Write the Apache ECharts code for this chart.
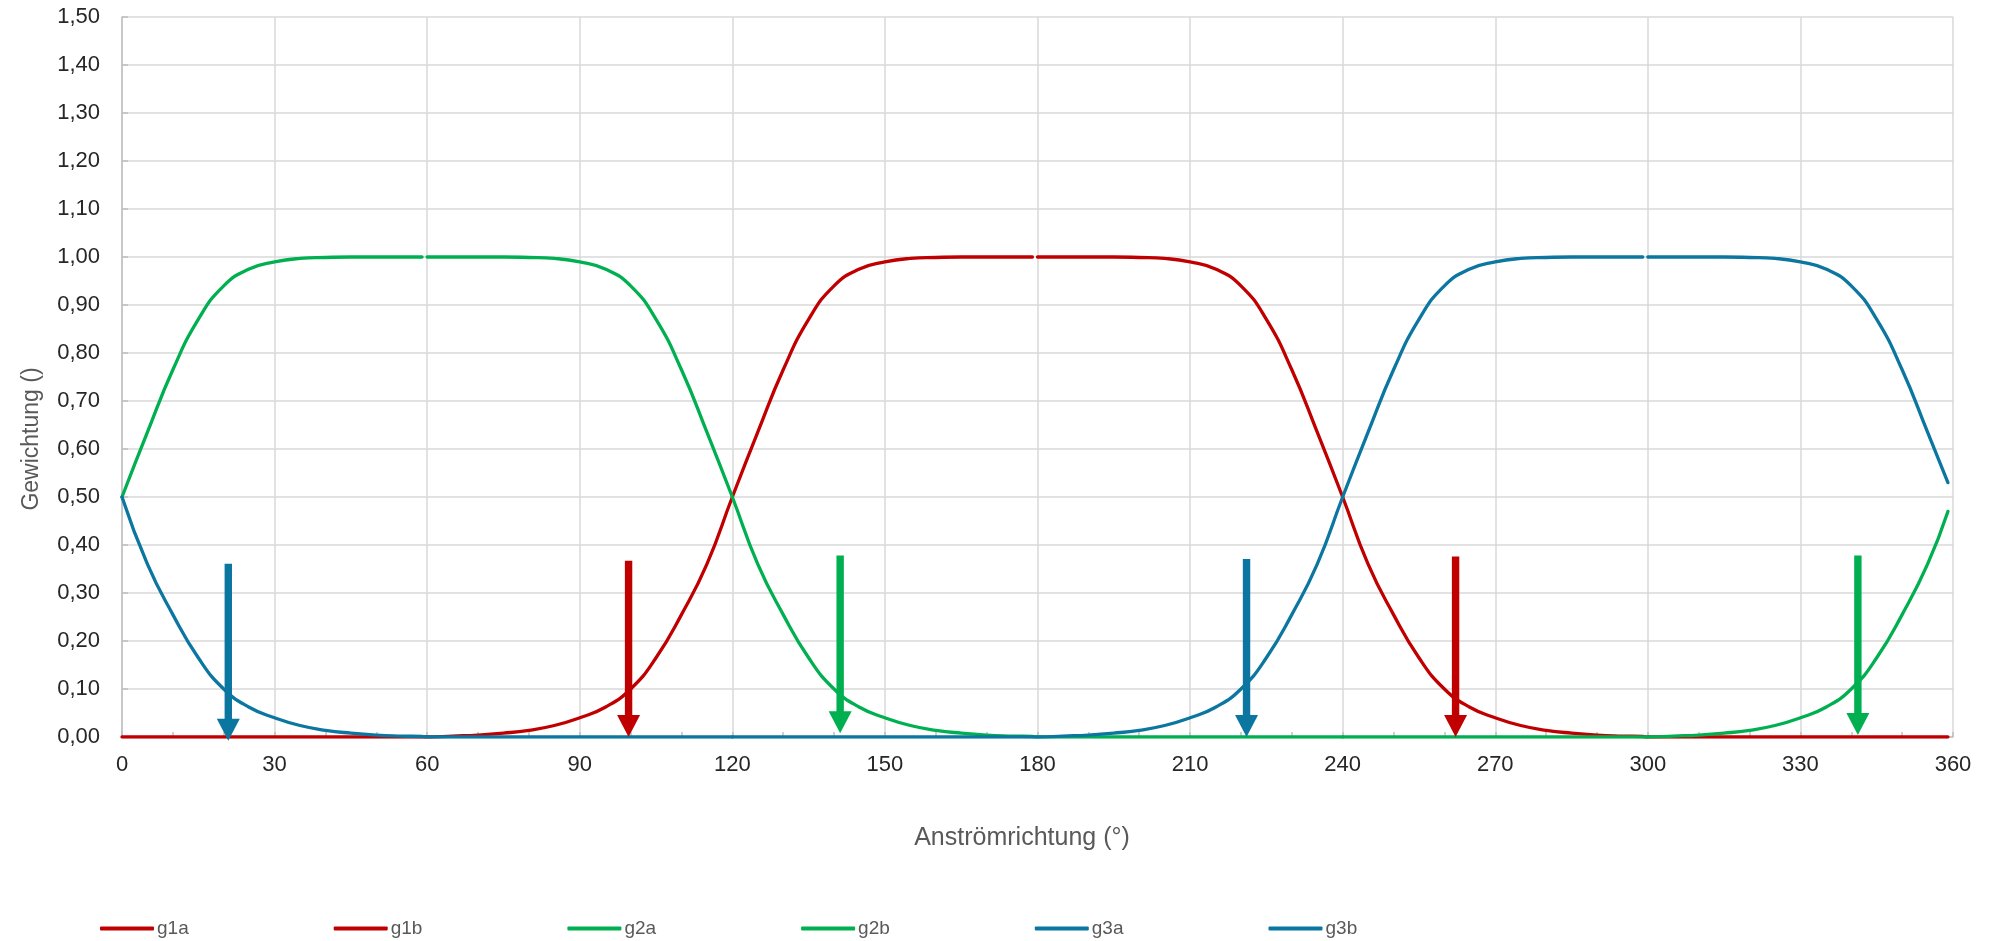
<!DOCTYPE html>
<html>
<head>
<meta charset="utf-8">
<script src="https://cdn.jsdelivr.net/npm/echarts@6/dist/echarts.min.js"></script>
<style>
  html, body { margin: 0; padding: 0; background: #fff; }
  #chart { width: 1989px; height: 941px; }
</style>
</head>
<body>
<div id="chart"></div>
<script>
// Anströmrichtung (°) – shared x positions of all curves
const angles = [0, 5, 10, 15, 20, 25, 30, 35, 40, 45, 50, 55, 59, 60, 65, 70, 75, 80, 85, 90, 95, 100, 105, 110, 115, 120, 125, 130, 135, 140, 145, 150, 155, 160, 165, 170, 175, 179, 180, 185, 190, 195, 200, 205, 210, 215, 220, 225, 230, 235, 240, 245, 250, 255, 260, 265, 270, 275, 280, 285, 290, 295, 299, 300, 305, 310, 315, 320, 325, 330, 335, 340, 345, 350, 355, 359];

// Gewichtung values (null = no point in that series)
const g1a = [0, 0, 0, 0, 0, 0, 0, 0, 0, 0, 0, 0, 0, 0, 0.002, 0.004, 0.008, 0.014, 0.024, 0.040, 0.062, 0.100, 0.165, 0.255, 0.360, 0.500, 0.635, 0.765, 0.870, 0.940, 0.975, 0.990, 0.997, 0.999, 1, 1, 1, 1, null, null, null, null, null, null, null, null, null, null, null, null, null, null, null, null, null, null, null, null, null, null, null, null, null, null, null, null, null, null, null, null, null, null, null, null, null, null];
const g1b = [null, null, null, null, null, null, null, null, null, null, null, null, null, null, null, null, null, null, null, null, null, null, null, null, null, null, null, null, null, null, null, null, null, null, null, null, null, null, 1, 1, 1, 1, 0.999, 0.997, 0.990, 0.975, 0.940, 0.870, 0.765, 0.635, 0.500, 0.360, 0.255, 0.165, 0.100, 0.062, 0.040, 0.024, 0.014, 0.008, 0.004, 0.002, 0.001, 0, 0, 0, 0, 0, 0, 0, 0, 0, 0, 0, 0, 0];
const g2a = [0.500, 0.635, 0.765, 0.870, 0.940, 0.975, 0.990, 0.997, 0.999, 1, 1, 1, 1, null, null, null, null, null, null, null, null, null, null, null, null, null, null, null, null, null, null, null, null, null, null, null, null, null, null, null, null, null, null, null, null, null, null, null, null, null, 0, 0, 0, 0, 0, 0, 0, 0, 0, 0, 0, 0, 0, 0, 0.002, 0.004, 0.008, 0.014, 0.024, 0.040, 0.062, 0.100, 0.165, 0.255, 0.360, 0.470];
const g2b = [null, null, null, null, null, null, null, null, null, null, null, null, null, 1, 1, 1, 1, 0.999, 0.997, 0.990, 0.975, 0.940, 0.870, 0.765, 0.635, 0.500, 0.360, 0.255, 0.165, 0.100, 0.062, 0.040, 0.024, 0.014, 0.008, 0.004, 0.002, 0.001, 0, 0, 0, 0, 0, 0, 0, 0, 0, 0, 0, 0, 0, null, null, null, null, null, null, null, null, null, null, null, null, null, null, null, null, null, null, null, null, null, null, null, null, null];
const g3a = [null, null, null, null, null, null, null, null, null, null, null, null, null, null, null, null, null, null, null, null, null, null, null, null, null, 0, 0, 0, 0, 0, 0, 0, 0, 0, 0, 0, 0, 0, 0, 0.002, 0.004, 0.008, 0.014, 0.024, 0.040, 0.062, 0.100, 0.165, 0.255, 0.360, 0.500, 0.635, 0.765, 0.870, 0.940, 0.975, 0.990, 0.997, 0.999, 1, 1, 1, 1, null, null, null, null, null, null, null, null, null, null, null, null, null];
const g3b = [0.500, 0.360, 0.255, 0.165, 0.100, 0.062, 0.040, 0.024, 0.014, 0.008, 0.004, 0.002, 0.001, 0, 0, 0, 0, 0, 0, 0, 0, 0, 0, 0, 0, 0, null, null, null, null, null, null, null, null, null, null, null, null, null, null, null, null, null, null, null, null, null, null, null, null, null, null, null, null, null, null, null, null, null, null, null, null, null, 1, 1, 1, 1, 0.999, 0.997, 0.990, 0.975, 0.940, 0.870, 0.765, 0.635, 0.530];

const seriesNames = ['g1a', 'g1b', 'g2a', 'g2b', 'g3a', 'g3b'];
const seriesValues = [g1a, g1b, g2a, g2b, g3a, g3b];
const seriesColors = ['#C00000', '#C00000', '#00B050', '#00B050', '#0B76A0', '#0B76A0'];

// arrows: x position, top value, tip value
const arrowX = [20.9, 99.6, 141.2, 221.1, 262.2, 341.3];
const arrowTop = [0.361, 0.367, 0.378, 0.371, 0.376, 0.378];
const arrowTip = [-0.008, 0, 0.008, 0, 0, 0.004];
const arrowColors = ['#0B76A0', '#C00000', '#00B050', '#0B76A0', '#C00000', '#00B050'];

const yTicks = { min: 0, max: 1.5, step: 0.1 };
const xTicks = { min: 0, max: 360, step: 30 };

const chart = echarts.init(document.getElementById('chart'));

const lineSeries = seriesNames.map((name, s) => ({
    name: name,
    type: 'line',
    data: angles.map((a, i) => [a, seriesValues[s][i]]),
    symbol: 'none',
    smooth: 0.5,
    connectNulls: false,
    color: seriesColors[s],
    lineStyle: { width: 3.3, color: seriesColors[s], cap: 'round' },
}));

const arrowSeries = {
    type: 'custom',
    name: 'arrows',
    data: arrowX.map((x, i) => [x, arrowTop[i], arrowTip[i]]),
    z: 10,
    renderItem: (params, api) => {
        const top = api.coord([api.value(0), api.value(1)]);
        const tip = api.coord([api.value(0), api.value(2)]);
        const color = arrowColors[params.dataIndex];
        const headH = 22;
        const headW = 23;
        return {
            type: 'group',
            children: [
                {
                    type: 'rect',
                    shape: { x: top[0] - 3.7, y: top[1], width: 7.4, height: tip[1] - headH - top[1] + 1 },
                    style: { fill: color },
                },
                {
                    type: 'polygon',
                    shape: { points: [[tip[0] - headW / 2, tip[1] - headH], [tip[0] + headW / 2, tip[1] - headH], [tip[0], tip[1]]] },
                    style: { fill: color },
                },
            ],
        };
    },
};

chart.setOption({
    animation: false,
    backgroundColor: '#ffffff',
    grid: { left: 122, right: 36, top: 17, bottom: 204 },
    legend: {
        data: seriesNames,
        left: 95,
        top: 914,
        icon: 'roundRect',
        itemWidth: 54,
        itemHeight: 4,
        itemGap: 145,
        textStyle: { fontFamily: 'Liberation Sans', fontSize: 19, color: '#595959', padding: [0, 0, 0, -2] },
    },
    xAxis: {
        type: 'value',
        min: xTicks.min,
        max: xTicks.max,
        interval: xTicks.step,
        axisLine: { show: true, lineStyle: { color: '#bfbfbf', width: 1.5 } },
        axisTick: { show: true, inside: true, length: 5, lineStyle: { color: '#bfbfbf', width: 1.5 } },
        minorTick: { show: true, splitNumber: 3, length: 5, lineStyle: { color: '#bfbfbf', width: 1.5 } },
        splitLine: { show: true, lineStyle: { color: '#d9d9d9', width: 1.5 } },
        axisLabel: { fontFamily: 'Liberation Sans', fontSize: 22, color: '#262626', margin: 17 },
    },
    yAxis: {
        type: 'value',
        min: yTicks.min,
        max: yTicks.max,
        interval: yTicks.step,
        axisLine: { show: true, lineStyle: { color: '#bfbfbf', width: 1.5 } },
        axisTick: { show: true, inside: true, length: 6, lineStyle: { color: '#bfbfbf', width: 1.5 } },
        splitLine: { show: true, lineStyle: { color: '#d9d9d9', width: 1.5 } },
        axisLabel: {
            fontFamily: 'Liberation Sans',
            fontSize: 22,
            color: '#262626',
            margin: 22,
            formatter: (v) => v.toFixed(2).replace('.', ','),
        },
    },
    graphic: [
        {
            type: 'text',
            x: 32,
            y: 439,
            rotation: Math.PI / 2,
            style: { text: 'Gewichtung ()', font: '23px "Liberation Sans"', fill: '#595959', align: 'center', verticalAlign: 'middle' },
        },
        {
            type: 'text',
            x: 1022,
            y: 838,
            style: { text: 'Anströmrichtung (°)', font: '25px "Liberation Sans"', fill: '#595959', align: 'center', verticalAlign: 'middle' },
        },
    ],
    series: [...lineSeries, arrowSeries],
});
</script>
</body>
</html>
